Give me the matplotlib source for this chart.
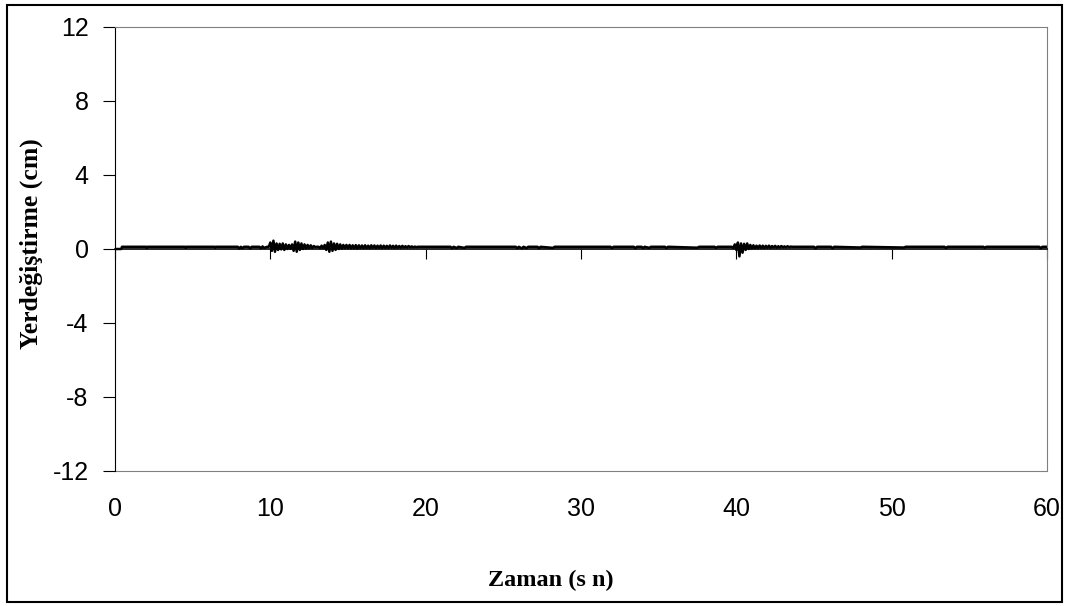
import numpy as np
import matplotlib
matplotlib.use("Agg")
import matplotlib.pyplot as plt
from matplotlib.patches import Rectangle

# quiet part before the first burst
quiet_t = [0.0, 0.40, 0.45, 2.0, 2.05, 2.1, 4.5, 4.55, 4.6, 6.4, 6.45, 6.5, 7.9,
           8.0, 8.1, 8.2, 8.3, 8.6, 8.7, 8.8, 9.0, 9.3, 9.4, 9.5, 9.6, 9.8]
quiet_v = [0.0, 0.0, 0.12, 0.12, 0.05, 0.12, 0.12, 0.06, 0.12, 0.12, 0.07, 0.12, 0.12,
           0.02, 0.12, 0.04, 0.12, 0.12, 0.03, 0.12, 0.12, 0.12, 0.04, 0.14, 0.06, 0.12]

# first burst, 9.9 - 15.0 s every 0.1 s
burst1_v = [0.12,
            0.35, -0.10, 0.45, -0.15, 0.30, -0.05, 0.28, -0.02, 0.30, -0.05,
            0.25, 0.00, 0.22, 0.02, 0.25, -0.10, 0.40, -0.15, 0.35, -0.05,
            0.30, 0.00, 0.25, 0.02, 0.22, 0.05, 0.20, 0.06, 0.16, 0.10,
            0.12, 0.12, 0.05, 0.18, 0.04, 0.22, -0.05, 0.35, -0.15, 0.40,
            -0.10, 0.30, -0.05, 0.28, 0.00, 0.25, 0.02, 0.22, 0.04, 0.22,
            0.04]
burst1_t = np.round(np.arange(9.9, 15.05, 0.1), 2)

# decaying tail, 15.1 - 19.5 s every 0.1 s
tail1_v = [0.22, 0.03, 0.20, 0.04, 0.21, 0.02, 0.20, 0.05, 0.19, 0.04,
           0.20, 0.05, 0.18, 0.04, 0.20, 0.06, 0.19, 0.05, 0.18, 0.06,
           0.19, 0.05, 0.18, 0.06, 0.17, 0.06, 0.19, 0.07, 0.17, 0.06,
           0.18, 0.07, 0.16, 0.07, 0.17, 0.08, 0.15, 0.08, 0.16, 0.09,
           0.14, 0.09, 0.13, 0.10, 0.12]
tail1_t = np.round(np.arange(15.1, 19.55, 0.1), 2)

# middle part with small dips
mid_t = [20.5, 21.6, 21.7, 21.8, 22.0, 22.1, 22.5, 22.6, 25.8, 25.9, 26.0, 26.2, 26.3,
         26.5, 26.6, 27.2, 27.3, 27.4, 28.2, 28.3, 31.9, 32.0, 32.1, 33.4, 33.5, 33.6,
         33.9, 34.0, 34.1, 34.4, 34.5, 35.4, 35.5, 35.6, 37.5, 37.6, 38.6, 38.7, 38.8]
mid_v = [0.12, 0.12, 0.04, 0.12, 0.05, 0.12, 0.06, 0.12, 0.12, 0.04, 0.12, 0.03, 0.12,
         0.05, 0.12, 0.12, 0.04, 0.12, 0.06, 0.12, 0.12, 0.05, 0.12, 0.12, 0.04, 0.12,
         0.12, 0.05, 0.12, 0.06, 0.12, 0.12, 0.05, 0.12, 0.07, 0.12, 0.12, 0.06, 0.12]

# second burst, 39.7 - 41.0 s every 0.1 s
burst2_v = [0.12, 0.05, 0.25, -0.05, 0.35, -0.40, 0.30, -0.20, 0.28, -0.05,
            0.30, 0.00, 0.22, 0.03]
burst2_t = np.round(np.arange(39.7, 41.05, 0.1), 2)

# second tail, 41.1 - 43.6 s every 0.1 s
tail2_v = [0.20, 0.04, 0.18, 0.05, 0.19, 0.06, 0.18, 0.05, 0.17, 0.07,
           0.18, 0.06, 0.16, 0.08, 0.17, 0.07, 0.15, 0.08, 0.16, 0.09,
           0.14, 0.09, 0.15, 0.10, 0.13, 0.12]
tail2_t = np.round(np.arange(41.1, 43.65, 0.1), 2)

end_t = [44.5, 45.0, 45.1, 45.2, 46.1, 46.2, 46.3, 48.0, 48.1, 50.8, 50.9,
         53.4, 53.5, 53.6, 55.9, 56.0, 56.1, 59.5, 59.6, 59.7, 60.0]
end_v = [0.12, 0.12, 0.03, 0.12, 0.12, 0.04, 0.12, 0.08, 0.12, 0.08, 0.12,
         0.12, 0.05, 0.12, 0.12, 0.07, 0.12, 0.12, 0.04, 0.12, 0.12]

x_ticks = [0, 10, 20, 30, 40, 50, 60]
y_ticks = [-12, -8, -4, 0, 4, 8, 12]

t = np.concatenate([quiet_t, burst1_t, tail1_t, mid_t, burst2_t, tail2_t, end_t])
v = np.concatenate([quiet_v, burst1_v, tail1_v, mid_v, burst2_v, tail2_v, end_v])
order = np.argsort(t, kind="stable")
t, v = t[order], v[order]

fig = plt.figure(figsize=(10.69, 6.06), dpi=100)
fig.patches.append(Rectangle((7 / 1069, 1 - 602 / 606), 1055 / 1069, 597 / 606,
                             transform=fig.transFigure, fill=False,
                             edgecolor="black", linewidth=1.5))

ax = fig.add_axes([115 / 1069, 1 - 471 / 606, 932 / 1069, 444 / 606])
ax.plot(t, v, color="black", linewidth=1.8)

ax.set_xlim(0, 60)
ax.set_ylim(-12, 12)

for s in ["top", "right"]:
    ax.spines[s].set_color("#808080")
ax.spines["left"].set_color("black")
ax.spines["bottom"].set_position(("data", 0))
ax.spines["bottom"].set_color("black")
ax.spines["bottom"].set_linewidth(1.2)

ax.set_xticks(x_ticks)
ax.tick_params(axis="x", direction="out", length=7, labelbottom=False, color="black")
ax.set_yticks(y_ticks)
ax.set_yticklabels([str(y) for y in y_ticks], family="Liberation Sans", fontsize=18)
ax.tick_params(axis="y", direction="out", length=9, pad=10)

secx = ax.secondary_xaxis("bottom")
secx.set_xticks(x_ticks)
secx.set_xticklabels([str(x) for x in x_ticks], family="Liberation Sans", fontsize=18)
secx.tick_params(length=0, pad=19)
secx.spines["bottom"].set_color("#808080")

fig.text(551 / 1069, 1 - 580 / 606, "Zaman (s n)", family="Liberation Serif",
         fontweight="bold", fontsize=17.5, ha="center", va="center")
fig.text(31 / 1069, 1 - 244 / 606, "Yerdeğiştirme (cm)", family="Liberation Serif",
         fontweight="bold", fontsize=18.5, rotation=90, ha="center", va="center")

fig.savefig("out.png", dpi=100)
